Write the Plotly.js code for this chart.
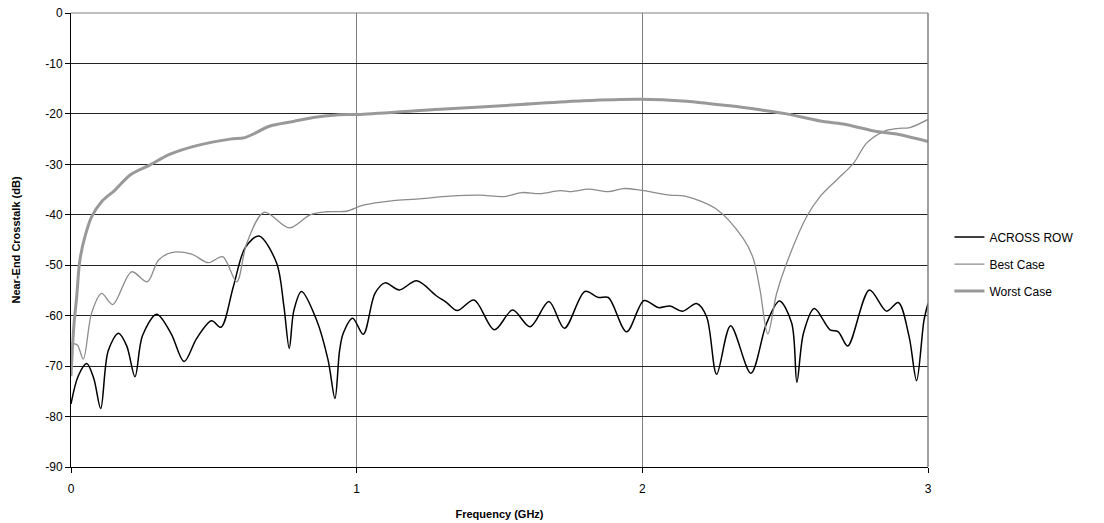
<!DOCTYPE html>
<html>
<head>
<meta charset="utf-8">
<script src="https://cdn.plot.ly/plotly-3.0.1.min.js"></script>
<style>html,body{margin:0;padding:0;background:#fff;}#chart{width:1104px;height:523px;}</style>
</head>
<body>
<div id="chart"></div>
<script>
// ACROSS ROW
const acrossFreq = [0, 0.025, 0.055, 0.08, 0.104, 0.13, 0.166, 0.195, 0.224, 0.25, 0.30, 0.35, 0.396, 0.44, 0.492, 0.525, 0.568, 0.61, 0.658, 0.72, 0.745, 0.764, 0.78, 0.807, 0.86, 0.90, 0.924, 0.94, 0.953, 0.986, 1.023, 1.064, 1.099, 1.149, 1.21, 1.28, 1.315, 1.352, 1.411, 1.482, 1.546, 1.607, 1.673, 1.727, 1.799, 1.846, 1.881, 1.945, 2.006, 2.056, 2.097, 2.141, 2.19, 2.225, 2.26, 2.309, 2.38, 2.435, 2.48, 2.523, 2.541, 2.564, 2.602, 2.657, 2.686, 2.719, 2.795, 2.855, 2.896, 2.934, 2.96, 2.986, 3.0];
const acrossDb = [-77.5, -72, -69.5, -72.5, -78.4, -67, -63.5, -66, -72.1, -64, -59.7, -63.5, -69.1, -64.5, -61.0, -62.3, -54.3, -46.5, -44.2, -49.6, -58, -66.5, -59, -55.2, -60.9, -68.8, -76.4, -67, -63.5, -60.5, -63.7, -55.6, -53.5, -54.9, -53.1, -56.1, -57.4, -59.0, -56.9, -62.8, -58.9, -62.2, -57.2, -62.5, -55.2, -56.4, -56.4, -63.2, -57.0, -58.4, -58.1, -59.1, -57.6, -60.2, -71.6, -62.0, -71.4, -61.5, -57.1, -61.5, -73.2, -63.5, -58.6, -62.8, -63.2, -66.0, -54.9, -59.1, -57.4, -64.2, -72.9, -60.9, -57.6];

// Best Case
const bestFreq = [0, 0.022, 0.043, 0.072, 0.107, 0.146, 0.212, 0.267, 0.306, 0.352, 0.422, 0.481, 0.531, 0.58, 0.615, 0.676, 0.764, 0.837, 0.895, 0.965, 1.023, 1.128, 1.21, 1.327, 1.432, 1.513, 1.578, 1.642, 1.712, 1.753, 1.811, 1.881, 1.933, 1.992, 2.097, 2.149, 2.26, 2.353, 2.388, 2.412, 2.439, 2.47, 2.505, 2.575, 2.622, 2.68, 2.739, 2.785, 2.844, 2.89, 2.937, 3.0];
const bestDb = [-65.5, -65.8, -68.6, -59.5, -55.6, -57.8, -51.3, -53.3, -49.0, -47.5, -47.8, -49.5, -48.3, -53.3, -45.7, -39.5, -42.6, -40.0, -39.4, -39.3, -38.1, -37.2, -36.9, -36.3, -36.1, -36.4, -35.6, -35.8, -35.2, -35.4, -34.9, -35.4, -34.8, -35.1, -36.1, -36.3, -38.9, -44.7, -48.6, -54.9, -63.6, -55.6, -49.6, -40.4, -36.4, -33.1, -29.8, -25.8, -23.5, -22.9, -22.7, -21.1];

// Worst Case
const worstFreq = [0, 0.01, 0.02, 0.031, 0.049, 0.072, 0.107, 0.154, 0.207, 0.277, 0.347, 0.44, 0.557, 0.609, 0.697, 0.778, 0.848, 0.930, 1.012, 1.292, 1.56, 1.793, 1.992, 2.155, 2.225, 2.307, 2.412, 2.505, 2.622, 2.703, 2.82, 2.89, 3.0];
const worstDb = [-72, -62, -56.2, -49.0, -44.3, -40.4, -37.4, -35.1, -32.1, -30.1, -28.0, -26.3, -25.0, -24.7, -22.4, -21.5, -20.7, -20.2, -20.1, -19.1, -18.2, -17.4, -17.1, -17.5, -17.9, -18.4, -19.2, -20.0, -21.4, -22.0, -23.5, -24.0, -25.5];

const yTickVals = [0, -10, -20, -30, -40, -50, -60, -70, -80, -90];
const yTickText = ["0", "-10", "-20", "-30", "-40", "-50", "-60", "-70", "-80", "-90"];
const xTickVals = [0, 1, 2, 3];
const xTickText = ["0", "1", "2", "3"];

const FONT = "Liberation Sans, Arial, sans-serif";

const traces = [
  {x: acrossFreq, y: acrossDb, name: "ACROSS ROW", mode: "lines", legendgroup: "a",
   line: {color: "#000000", width: 1.5, shape: "spline", smoothing: 0.9}},
  {x: bestFreq, y: bestDb, name: "Best Case", mode: "lines", legendgroup: "b",
   line: {color: "#8c8c8c", width: 1.3, shape: "spline", smoothing: 0.9}},
  {x: worstFreq, y: worstDb, name: "Worst Case", mode: "lines", legendgroup: "c",
   line: {color: "#999999", width: 3, shape: "spline", smoothing: 0.9}}
];

const layout = {
  width: 1104, height: 523,
  paper_bgcolor: "#ffffff", plot_bgcolor: "#ffffff",
  margin: {l: 71, r: 176, t: 13, b: 56},
  font: {family: FONT, size: 11, color: "#000"},
  showlegend: true,
  legend: {x: 1.025, xanchor: "left", y: 0.447, yanchor: "middle", tracegroupgap: 8,
           font: {family: FONT, size: 12, color: "#000"}, bgcolor: "rgba(0,0,0,0)"},
  xaxis: {
    range: [0, 3], tickvals: xTickVals, ticktext: xTickText,
    showgrid: true, gridcolor: "#808080", gridwidth: 1,
    zeroline: false, showline: true, linecolor: "#000", linewidth: 1,
    ticks: "outside", ticklen: 5, tickcolor: "#000", ticklabelstandoff: 6,
    tickfont: {family: FONT, size: 12},
    title: {text: "<b>Frequency (GHz)</b>", font: {family: FONT, size: 11}, standoff: 14}
  },
  yaxis: {
    range: [-90, 0], tickvals: yTickVals, ticktext: yTickText,
    showgrid: true, gridcolor: "#222222", gridwidth: 1,
    zeroline: false, showline: true, linecolor: "#000", linewidth: 1,
    ticks: "outside", ticklen: 5, tickcolor: "#000",
    tickfont: {family: FONT, size: 12},
    title: {text: "<b>Near-End Crosstalk (dB)</b>", font: {family: FONT, size: 11}, standoff: 22}
  },
  shapes: [
    {type: "line", xref: "paper", yref: "paper", x0: 1, x1: 1, y0: 0, y1: 1, line: {color: "#808080", width: 1.5}},
    {type: "line", xref: "paper", yref: "paper", x0: 0, x1: 1, y0: 1, y1: 1, line: {color: "#808080", width: 1}}
  ]
};

Plotly.newPlot("chart", traces, layout, {displayModeBar: false, staticPlot: true});
</script>
</body>
</html>
